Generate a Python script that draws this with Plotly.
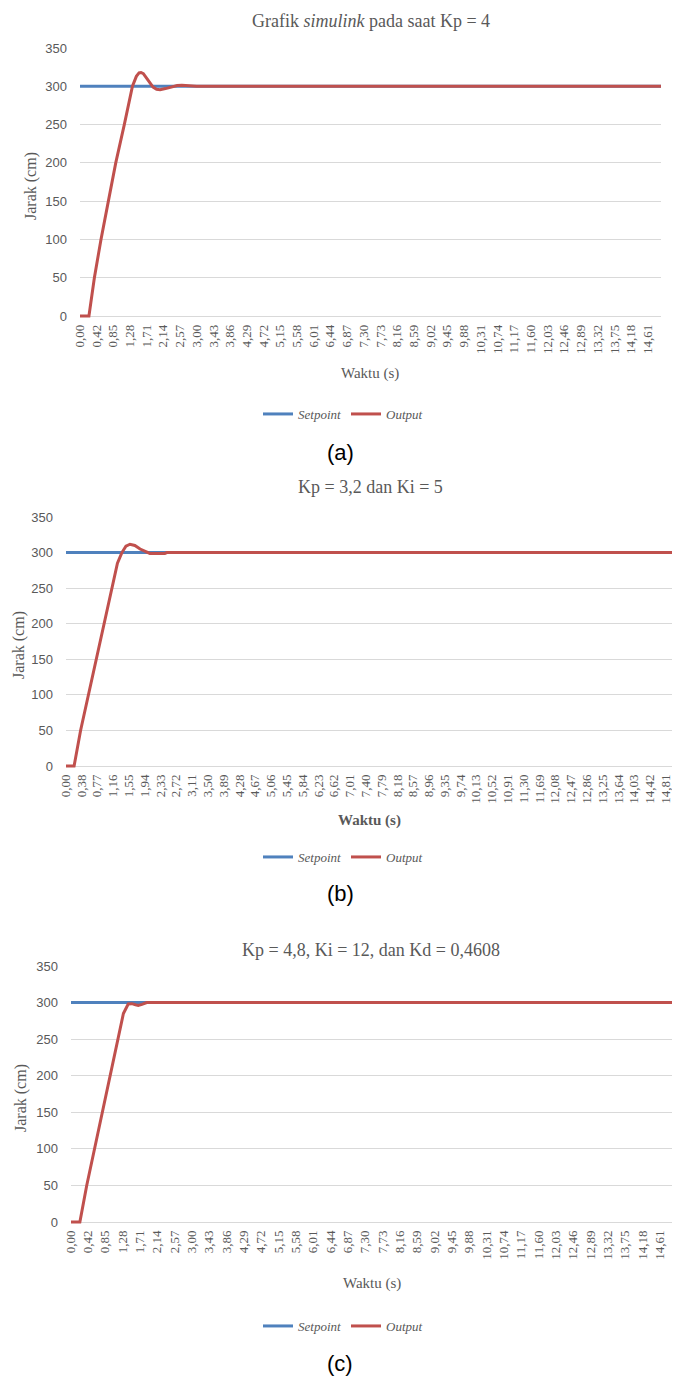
import plotly.graph_objects as go

# the page places the figure 8 px in from the window's top-left corner
OFF = 8
W, H = 680 - OFF, 1380 - OFF

# ---------------- data ----------------
labels_a = ["0,00", "0,42", "0,85", "1,28", "1,71", "2,14", "2,57", "3,00", "3,43", "3,86",
            "4,29", "4,72", "5,15", "5,58", "6,01", "6,44", "6,87", "7,30", "7,73", "8,16",
            "8,59", "9,02", "9,45", "9,88", "10,31", "10,74", "11,17", "11,60", "12,03", "12,46",
            "12,89", "13,32", "13,75", "14,18", "14,61"]
labels_b = ["0,00", "0,38", "0,77", "1,16", "1,55", "1,94", "2,33", "2,72", "3,11", "3,50",
            "3,89", "4,28", "4,67", "5,06", "5,45", "5,84", "6,23", "6,62", "7,01", "7,40",
            "7,79", "8,18", "8,57", "8,96", "9,35", "9,74", "10,13", "10,52", "10,91", "11,30",
            "11,69", "12,08", "12,47", "12,86", "13,25", "13,64", "14,03", "14,42", "14,81"]
labels_c = ["0,00", "0,42", "0,85", "1,28", "1,71", "2,14", "2,57", "3,00", "3,43", "3,86",
            "4,29", "4,72", "5,15", "5,58", "6,01", "6,44", "6,87", "7,30", "7,73", "8,16",
            "8,59", "9,02", "9,45", "9,88", "10,31", "10,74", "11,17", "11,60", "12,03", "12,46",
            "12,89", "13,32", "13,75", "14,18", "14,61"]

setpoint_t = [0.0, 15.0]
setpoint_v = [300, 300]

out_a_t = [0.0, 0.23, 0.37, 0.54, 0.73, 0.92, 1.14, 1.28, 1.35, 1.45, 1.52, 1.57, 1.63,
           1.75, 1.88, 1.97, 2.06, 2.20, 2.35, 2.50, 2.62, 2.75, 2.90, 3.00, 15.0]
out_a_v = [0, 0, 50, 100, 150, 200, 250, 285, 300, 313, 317.5, 318, 316.5,
           308, 299, 296, 295.5, 297, 299.5, 301, 301.5, 300.8, 300.2, 300, 300]

out_b_t = [0.0, 0.20, 0.36, 0.55, 0.74, 0.94, 1.13, 1.27, 1.38, 1.48, 1.58, 1.70, 1.83,
           2.01, 2.07, 2.44, 2.49, 15.0]
out_b_v = [0, 0, 50, 100, 150, 200, 250, 285, 300, 309, 311.7, 310, 305,
           300, 298.8, 298.8, 300, 300]

out_c_t = [0.0, 0.22, 0.39, 0.58, 0.78, 0.97, 1.16, 1.30, 1.42, 1.51, 1.60, 1.67, 1.76,
           1.88, 15.0]
out_c_v = [0, 0, 50, 100, 150, 200, 250, 285, 298, 298.5, 297, 296, 297.5,
           300, 300]

titles = ["Grafik <i>simulink</i> pada saat Kp = 4",
          "Kp = 3,2 dan Ki = 5",
          "Kp = 4,8, Ki = 12, dan Kd = 0,4608"]
captions = ["(a)", "(b)", "(c)"]
y_ticks = [0, 50, 100, 150, 200, 250, 300, 350]

# ---------------- layout (screen-pixel geometry) ----------------
panels = [
    dict(t=out_a_t, v=out_a_v, labels=labels_a, left=80, right=661, top=48, zero=316, xmax=14.95,
         title_y=8.5, title_anchor="top", title_x=371, xlab_y=373, xlab_x=370, leg_y=414,
         cap_y=452, ylab_x=31, ylab_anchor="center", bold=False),
    dict(t=out_b_t, v=out_b_v, labels=labels_b, left=66, right=673.5, top=517, zero=766, xmax=15.0,
         title_y=487, title_anchor="middle", title_x=370, xlab_y=820, xlab_x=369, leg_y=857,
         cap_y=893, ylab_x=8.5, ylab_anchor="left", bold=True),
    dict(t=out_c_t, v=out_c_v, labels=labels_c, left=71, right=674, top=966, zero=1222, xmax=14.96,
         title_y=950, title_anchor="middle", title_x=371, xlab_y=1283, xlab_x=372, leg_y=1326,
         cap_y=1363, ylab_x=21, ylab_anchor="center", bold=False),
]


def px(xs):
    return (xs - OFF) / W


def py(ys):
    return 1 - (ys - OFF) / H


BLUE = "#4F81BD"
RED = "#C0504D"
GRID = "#D9D9D9"
TXT = "#595959"
SERIF = "Liberation Serif"
SANS = "Liberation Sans"
YMIN = -4

fig = go.Figure()
annotations = []
layout = {}

for i, p in enumerate(panels):
    n = "" if i == 0 else str(i + 1)
    xa, ya = "x" + n, "y" + n
    leg = "legend" + n
    fig.add_trace(go.Scatter(x=setpoint_t, y=setpoint_v, mode="lines", name="Setpoint",
                             line=dict(color=BLUE, width=3), xaxis=xa, yaxis=ya, legend=leg))
    fig.add_trace(go.Scatter(x=p["t"], y=p["v"], mode="lines", name="Output",
                             line=dict(color=RED, width=3), xaxis=xa, yaxis=ya, legend=leg))
    ppu = (p["zero"] - p["top"]) / 350.0
    bottom_px = p["zero"] - YMIN * ppu
    ydom = [py(bottom_px), py(p["top"])]
    xdom = [px(p["left"]), min(1.0, px(p["right"]))]
    tickvals = [float(s.replace(",", ".")) for s in p["labels"]]
    layout["xaxis" + n] = dict(domain=xdom, range=[0, p["xmax"]], anchor=ya, automargin=False,
                               tickvals=tickvals, ticktext=p["labels"], tickangle=-90,
                               tickfont=dict(family=SERIF, size=13, color=TXT),
                               showgrid=False, zeroline=False, showline=False, ticks="",
                               ticklabelstandoff=2)
    layout["yaxis" + n] = dict(domain=ydom, range=[YMIN, 350], anchor=xa, automargin=False,
                               tickvals=y_ticks, tickfont=dict(family=SANS, size=13, color=TXT),
                               showgrid=True, gridcolor=GRID, gridwidth=1,
                               zeroline=True, zerolinecolor=GRID, zerolinewidth=1,
                               showline=False, ticks="", ticklabelstandoff=12)
    layout[leg] = dict(orientation="h", x=px(343), y=py(p["leg_y"]), xanchor="center",
                       yanchor="middle", font=dict(family=SERIF, size=13, color=TXT, style="italic"),
                       bgcolor="rgba(0,0,0,0)", itemwidth=30, tracegroupgap=0)
    annotations.append(dict(text=titles[i], x=px(p["title_x"]), y=py(p["title_y"]),
                            xref="paper", yref="paper", showarrow=False, xanchor="center",
                            yanchor=p["title_anchor"], font=dict(family=SERIF, size=18, color=TXT)))
    xl = "<b>Waktu (s)</b>" if p["bold"] else "Waktu (s)"
    annotations.append(dict(text=xl, x=px(p["xlab_x"]), y=py(p["xlab_y"]),
                            xref="paper", yref="paper", showarrow=False, xanchor="center",
                            yanchor="middle", font=dict(family=SERIF, size=15, color=TXT)))
    annotations.append(dict(text="Jarak (cm)", x=px(p["ylab_x"]),
                            y=py((p["top"] + p["zero"]) / 2 + 4),
                            xref="paper", yref="paper", showarrow=False,
                            xanchor=p["ylab_anchor"], yanchor="middle", textangle=-90,
                            font=dict(family=SERIF, size=16, color=TXT)))
    annotations.append(dict(text=captions[i], x=px(340), y=py(p["cap_y"]),
                            xref="paper", yref="paper", showarrow=False, xanchor="center",
                            yanchor="middle", font=dict(family=SANS, size=22, color="#000000")))

fig.update_layout(width=W, height=H, margin=dict(l=0, r=0, t=0, b=0, autoexpand=False),
                  paper_bgcolor="white", plot_bgcolor="white",
                  annotations=annotations, **layout)

fig.write_html("out.html")
